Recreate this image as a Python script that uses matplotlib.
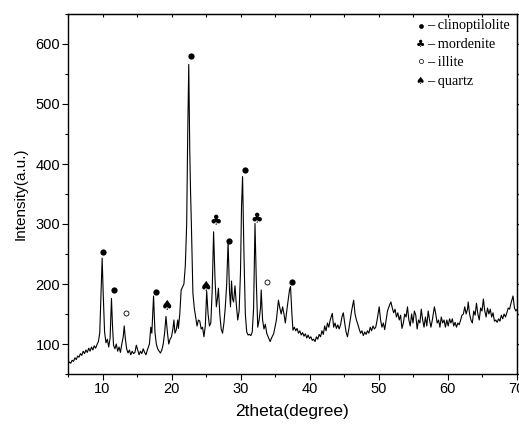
import matplotlib
matplotlib.use("Agg")
import matplotlib.pyplot as plt
from matplotlib.ticker import MultipleLocator

two_theta = [
    5.0, 5.2, 5.4, 5.6, 5.8, 6.0, 6.2, 6.4, 6.6, 6.8, 7.0, 7.2, 7.4, 7.6, 7.8, 8.0, 8.2, 8.4, 8.6, 8.8,
    9.0, 9.2, 9.4, 9.6, 9.8, 9.95, 10.1, 10.3, 10.5, 10.7, 10.9, 11.1, 11.3, 11.45, 11.6, 11.8, 12.0, 12.2,
    12.4, 12.6, 12.8, 13.0, 13.15, 13.3, 13.5, 13.7, 13.9, 14.1, 14.3, 14.5, 14.7, 14.9, 15.1, 15.3, 15.5,
    15.7, 15.9, 16.1, 16.3, 16.5, 16.8, 17.0, 17.15, 17.4, 17.6, 17.8, 18.0, 18.2, 18.4, 18.6, 18.8, 19.0,
    19.2, 19.4, 19.6, 19.8, 20.0, 20.2, 20.35, 20.5, 20.7, 20.9, 21.0, 21.2, 21.4, 21.6, 21.8, 22.0, 22.2,
    22.35, 22.5, 22.65, 22.75, 22.9, 23.1, 23.3, 23.5, 23.7, 23.9, 24.1, 24.3, 24.5, 24.7, 24.9, 25.1,
    25.3, 25.5, 25.7, 25.9, 26.1, 26.3, 26.5, 26.65, 26.8, 27.0, 27.2, 27.4, 27.6, 27.8, 28.0, 28.2, 28.4,
    28.55, 28.7, 28.85, 29.0, 29.2, 29.4, 29.6, 29.8, 30.0, 30.15, 30.3, 30.5, 30.7, 30.9, 31.1, 31.3,
    31.5, 31.7, 31.9, 32.1, 32.3, 32.5, 32.7, 32.9, 33.0, 33.2, 33.4, 33.6, 33.8, 34.0, 34.3, 34.5, 34.8,
    35.0, 35.2, 35.5, 35.7, 35.9, 36.1, 36.3, 36.5, 36.7, 36.9, 37.1, 37.25, 37.45, 37.6, 37.8, 38.0,
    38.2, 38.4, 38.6, 38.8, 39.0, 39.2, 39.4, 39.6, 39.8, 40.0, 40.2, 40.4, 40.6, 40.8, 41.0, 41.2, 41.4,
    41.6, 41.8, 42.0, 42.2, 42.4, 42.6, 42.8, 43.0, 43.3, 43.5, 43.7, 43.9, 44.1, 44.3, 44.5, 44.7, 44.9,
    45.1, 45.3, 45.5, 45.7, 45.9, 46.1, 46.4, 46.6, 46.8, 47.0, 47.2, 47.4, 47.6, 47.8, 48.0, 48.2, 48.4,
    48.6, 48.8, 49.0, 49.2, 49.4, 49.6, 49.8, 50.1, 50.3, 50.5, 50.7, 50.9, 51.1, 51.3, 51.6, 51.8, 52.0,
    52.2, 52.4, 52.6, 52.8, 53.0, 53.2, 53.4, 53.6, 53.8, 54.0, 54.2, 54.4, 54.6, 54.8, 55.0, 55.2, 55.4,
    55.6, 55.8, 56.0, 56.2, 56.4, 56.6, 56.8, 57.0, 57.2, 57.4, 57.6, 57.8, 58.1, 58.3, 58.5, 58.7, 58.9,
    59.1, 59.3, 59.5, 59.7, 59.9, 60.1, 60.3, 60.5, 60.7, 60.9, 61.1, 61.3, 61.5, 61.7, 61.9, 62.1, 62.3,
    62.5, 62.7, 62.9, 63.0, 63.2, 63.4, 63.6, 63.8, 64.0, 64.2, 64.4, 64.6, 64.8, 65.0, 65.2, 65.4, 65.6,
    65.8, 66.0, 66.2, 66.4, 66.6, 66.8, 67.0, 67.2, 67.4, 67.6, 67.8, 68.0, 68.2, 68.4, 68.6, 68.8, 69.0,
    69.2, 69.4, 69.5, 69.7, 69.9, 70.0,
]
intensity = [
    66, 70, 68, 73, 71, 77, 74, 80, 78, 84, 81, 88, 84, 90, 86, 93, 88, 95, 90, 97,
    93, 99, 104, 118, 190, 243, 185, 120, 102, 108, 95, 110, 176, 130, 98, 92, 100, 88,
    95, 86, 100, 112, 130, 110, 92, 85, 90, 82, 88, 84, 86, 98, 90, 82, 88,
    84, 92, 86, 82, 90, 100, 128, 118, 180, 120, 100, 92, 88, 85, 90, 100, 118,
    146, 120, 100, 108, 112, 125, 140, 118, 124, 140, 126, 150, 190, 195, 200, 230, 300,
    450, 566, 420, 360, 290, 185, 160, 145, 130, 140, 138, 125, 128, 112, 130, 188,
    150, 130, 135, 190, 287, 210, 162, 175, 193, 150, 125, 118, 135, 162, 200, 270, 190,
    162, 205, 175, 170, 197, 165, 140, 155, 220, 330, 379, 250, 150, 120, 115, 116,
    114, 120, 160, 301, 200, 128, 140, 160, 190, 140, 125, 133, 118, 112, 104, 110, 117,
    128, 140, 173, 160, 150, 162, 150, 135, 155, 172, 190, 196, 150, 123, 128, 122,
    126, 118, 122, 115, 119, 113, 117, 110, 115, 109, 112, 106, 108, 104, 112, 108, 116,
    112, 122, 116, 130, 122, 135, 128, 140, 151, 128, 135, 126, 132, 125, 132, 145, 152,
    135, 120, 112, 125, 140, 155, 173, 150, 140, 133, 125, 118, 122, 114, 120, 116, 122,
    118, 128, 122, 130, 125, 128, 140, 162, 140, 128, 135, 124, 140, 155, 165, 170, 160,
    152, 158, 145, 152, 140, 148, 126, 135, 150, 145, 162, 140, 130, 150, 135, 155, 148,
    125, 140, 135, 158, 140, 128, 145, 130, 155, 140, 128, 140, 162, 150, 135, 140, 128,
    145, 135, 140, 128, 140, 130, 142, 135, 142, 130, 136, 128, 135, 132, 140, 148, 150,
    162, 150, 158, 170, 150, 140, 135, 155, 148, 168, 150, 140, 160, 155, 175, 155, 145,
    160, 150, 158, 145, 152, 138, 140, 136, 142, 138, 148, 142, 150, 145, 152, 160, 158,
    168, 176, 180, 160, 155, 157,
]

# phase markers
clino_x = [10.05, 11.6, 17.7, 22.8, 28.4, 30.65, 37.45]
clino_y = [253, 190, 186, 580, 271, 390, 203]
morden_x = [26.4, 32.3]
morden_y = [304, 308]
illite_x = [13.35, 33.8]
illite_y = [151, 204]
quartz_x = [19.4, 25.0]
quartz_y = [163, 195]

legend_labels = ["\u2013 clinoptilolite", "\u2013 mordenite", "\u2013 illite", "\u2013 quartz"]

fig = plt.figure(figsize=(5.19, 4.25), dpi=100)
ax = fig.add_axes([68 / 519, 1 - 374 / 425, (516.5 - 68) / 519, (374 - 14) / 425])

ax.plot(two_theta, intensity, color="black", lw=0.8)

ax.plot(clino_x, clino_y, "o", color="black", ms=4.5, mew=0)
ax.plot(illite_x, illite_y, "o", mfc="white", mec="black", ms=3.6, mew=0.6)
for x, y in zip(morden_x, morden_y):
    ax.text(x, y, "\u2663", ha="center", va="center", fontsize=10, family="DejaVu Sans")
for x, y in zip(quartz_x, quartz_y):
    ax.text(x, y, "\u2660", ha="center", va="center", fontsize=10, family="DejaVu Sans")

ax.set_xlim(5, 70)
ax.set_ylim(50, 650)
ax.xaxis.set_major_locator(MultipleLocator(10))
ax.xaxis.set_minor_locator(MultipleLocator(5))
ax.yaxis.set_major_locator(MultipleLocator(100))
ax.yaxis.set_minor_locator(MultipleLocator(50))
ax.set_yticks([100, 200, 300, 400, 500, 600])
ax.tick_params(axis="both", which="major", direction="out", length=4, width=0.8,
               labelsize=10.5, pad=1.5)
ax.tick_params(axis="both", which="minor", direction="out", length=2.5, width=0.8)

for lab in ax.get_xticklabels() + ax.get_yticklabels():
    lab.set_family("Liberation Sans")

# secondary ticks on top (inward) and right (outward)
top = ax.secondary_xaxis("top")
top.xaxis.set_major_locator(MultipleLocator(5))
top.tick_params(direction="in", length=2, width=0.8, labeltop=False)
right = ax.secondary_yaxis("right")
right.yaxis.set_major_locator(MultipleLocator(50))
right.tick_params(direction="out", length=2, width=0.8, labelright=False)

for s in ax.spines.values():
    s.set_linewidth(1.0)

ax.set_xlabel("2theta(degree)", family="Liberation Sans", fontsize=12.5, labelpad=6)
ax.set_ylabel("Intensity(a.u.)", family="Liberation Sans", fontsize=11, labelpad=6)

# legend (text-based, as in original)
leg_y = [26, 44.3, 62.7, 81]
sym_x_px = 420.5
text_x_px = 427.5
for i, (lbl, yp) in enumerate(zip(legend_labels, leg_y)):
    yf = 1 - yp / 425
    fig.text(text_x_px / 519, yf, lbl, ha="left", va="center", family="Liberation Serif", fontsize=10.3)
fig.lines.append(plt.Line2D([sym_x_px / 519], [1 - leg_y[0] / 425], marker="o", color="black",
                            ms=3.4, mew=0, transform=fig.transFigure))
fig.lines.append(plt.Line2D([sym_x_px / 519], [1 - leg_y[2] / 425 + 0.004], marker="o", mfc="white",
                            mec="black", ms=3.0, mew=0.5, transform=fig.transFigure))
fig.text(sym_x_px / 519, 1 - leg_y[1] / 425, "\u2663", ha="center", va="center", fontsize=7.5,
         family="DejaVu Sans")
fig.text(sym_x_px / 519, 1 - leg_y[3] / 425, "\u2660", ha="center", va="center", fontsize=7.5,
         family="DejaVu Sans")

fig.savefig("out.png", dpi=100)
